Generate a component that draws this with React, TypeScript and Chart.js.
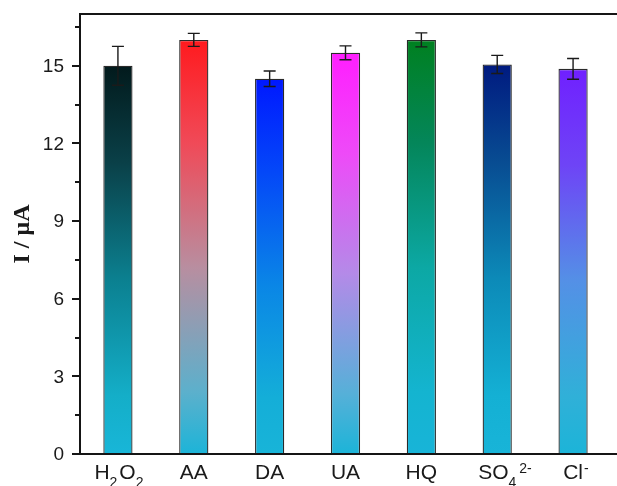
import React, { useEffect, useRef } from "react";
import { Chart, registerables } from "chart.js";

Chart.register(...registerables);

// ---- data ----
const categories = ["H_2O_2", "AA", "DA", "UA", "HQ", "SO_4^{2-}", "Cl^-"];
const currents = [15.0, 16.0, 14.5, 15.5, 16.0, 15.05, 14.88];
const errors = [0.75, 0.25, 0.3, 0.27, 0.27, 0.35, 0.4];
const yMajorTicks = [0, 3, 6, 9, 12, 15];
const yMinorTicks = [1.5, 4.5, 7.5, 10.5, 13.5, 16.5];
const yMax = 17;
const yTitle = "I / μA";

// ---- styles ----
const gradientStops = [0, 0.25, 0.55, 0.85, 1];
const barGradients = [
  ["#021a1c", "#0a4048", "#0b8090", "#14aec8", "#18b6d8"],
  ["#ff1a1e", "#f04a58", "#b88ea0", "#5cb0cc", "#1cb4d8"],
  ["#0018ff", "#0448f8", "#0a86e6", "#14aed8", "#18b4d8"],
  ["#ff1eff", "#ee4af8", "#b48ae8", "#56b0d8", "#1cb4d8"],
  ["#008020", "#04865a", "#0ca8a4", "#14b4d0", "#18b4d8"],
  ["#001a80", "#084c92", "#0c8ab8", "#14b0d4", "#18b4d8"],
  ["#7020ff", "#6e44f6", "#5490e6", "#30b0d8", "#1cb4d8"],
];
const axisColor = "#151515";
const textColor = "#1a1a1a";
const sansFont = 'Arial, "Liberation Sans", sans-serif';
const serifFont = '"Liberation Serif", "Times New Roman", serif';

type Seg = { t: string; k: "n" | "sub" | "sup" };

function parseLabel(s: string): Seg[] {
  const segs: Seg[] = [];
  let i = 0;
  let buf = "";
  while (i < s.length) {
    const c = s[i];
    if (c === "_" || c === "^") {
      if (buf) {
        segs.push({ t: buf, k: "n" });
        buf = "";
      }
      let txt: string;
      if (s[i + 1] === "{") {
        const j = s.indexOf("}", i + 2);
        txt = s.slice(i + 2, j);
        i = j + 1;
      } else {
        txt = s[i + 1];
        i += 2;
      }
      segs.push({ t: txt, k: c === "_" ? "sub" : "sup" });
    } else {
      buf += c;
      i++;
    }
  }
  if (buf) segs.push({ t: buf, k: "n" });
  return segs;
}

const axisPlugin = {
  id: "originAxes",
  afterDatasetsDraw(chart: any) {
    const ctx = chart.ctx;
    const y = chart.scales.y;
    const meta = chart.getDatasetMeta(0);
    ctx.save();
    ctx.strokeStyle = "#1a1a1a";
    ctx.lineWidth = 1.4;
    meta.data.forEach((bar: any, i: number) => {
      const x = bar.x;
      const yHi = y.getPixelForValue(currents[i] + errors[i]);
      const yLo = y.getPixelForValue(currents[i] - errors[i]);
      ctx.beginPath();
      ctx.moveTo(x, yHi);
      ctx.lineTo(x, yLo);
      ctx.moveTo(x - 6, yHi);
      ctx.lineTo(x + 6, yHi);
      ctx.moveTo(x - 6, yLo);
      ctx.lineTo(x + 6, yLo);
      ctx.stroke();
    });
    ctx.restore();
  },
  afterDraw(chart: any) {
    const ctx = chart.ctx;
    const area = chart.chartArea;
    const y = chart.scales.y;
    const x = chart.scales.x;
    const W = chart.width;
    ctx.save();
    ctx.strokeStyle = axisColor;
    ctx.lineWidth = 2;
    // frame lines
    ctx.beginPath();
    ctx.moveTo(area.left, area.top - 1);
    ctx.lineTo(area.left, area.bottom + 1);
    ctx.moveTo(area.left - 1, area.top);
    ctx.lineTo(W, area.top);
    ctx.moveTo(area.left - 1, area.bottom);
    ctx.lineTo(W, area.bottom);
    ctx.stroke();
    // ticks
    ctx.beginPath();
    yMajorTicks.forEach((v) => {
      const py = Math.round(y.getPixelForValue(v));
      ctx.moveTo(area.left - 8, py);
      ctx.lineTo(area.left, py);
    });
    yMinorTicks.forEach((v) => {
      const py = Math.round(y.getPixelForValue(v));
      ctx.moveTo(area.left - 5, py);
      ctx.lineTo(area.left, py);
    });
    ctx.stroke();
    // y tick labels
    ctx.fillStyle = textColor;
    ctx.font = `19px ${sansFont}`;
    ctx.textAlign = "right";
    ctx.textBaseline = "middle";
    yMajorTicks.forEach((v) => {
      ctx.fillText(String(v), area.left - 16, y.getPixelForValue(v) + 1);
    });
    // y title
    ctx.save();
    ctx.translate(23, (area.top + area.bottom) / 2);
    ctx.rotate(-Math.PI / 2);
    ctx.font = `bold 24px ${serifFont}`;
    ctx.textAlign = "center";
    ctx.textBaseline = "middle";
    ctx.fillText(yTitle, 0, 0);
    ctx.restore();
    // x labels
    const baseFont = `21px ${sansFont}`;
    const scriptFont = `14px ${sansFont}`;
    ctx.textAlign = "left";
    ctx.textBaseline = "alphabetic";
    const baseline = area.bottom + 25;
    categories.forEach((lab, i) => {
      const segs = parseLabel(lab);
      const widths = segs.map((s) => {
        ctx.font = s.k === "n" ? baseFont : scriptFont;
        return ctx.measureText(s.t).width;
      });
      let total = 0;
      segs.forEach((s, k) => {
        if (s.k !== "sup") total += widths[k];
      });
      let cx = x.getPixelForValue(i) - total / 2;
      segs.forEach((s, k) => {
        if (s.k === "n") {
          ctx.font = baseFont;
          ctx.fillText(s.t, cx, baseline);
          cx += widths[k];
        } else if (s.k === "sub") {
          ctx.font = scriptFont;
          ctx.fillText(s.t, cx, baseline + 8);
          cx += widths[k] + 2;
        } else {
          ctx.font = scriptFont;
          ctx.fillText(s.t, cx + 1, baseline - 6);
          cx += widths[k] + 1;
        }
      });
    });
    ctx.restore();
  },
};

export default function App() {
  const ref = useRef<HTMLCanvasElement>(null);
  useEffect(() => {
    document.body.style.margin = "0";
    const canvas = ref.current!;
    const chart = new Chart(canvas, {
      type: "bar",
      data: {
        labels: categories,
        datasets: [
          {
            data: currents,
            backgroundColor: (c: any) => {
              const i = c.dataIndex;
              const stops = barGradients[i] || barGradients[0];
              const ch = c.chart;
              if (!ch.chartArea || !ch.scales.y) return stops[0];
              const yTop = ch.scales.y.getPixelForValue(currents[i]);
              const yBase = ch.scales.y.getPixelForValue(0);
              const g = ch.ctx.createLinearGradient(0, yTop, 0, yBase);
              gradientStops.forEach((p, k) => g.addColorStop(p, stops[k]));
              return g;
            },
            borderColor: "#2a2a2a",
            borderWidth: 1.3,
            borderSkipped: "start",
            categoryPercentage: 0.385,
            barPercentage: 1,
          } as any,
        ],
      },
      options: {
        responsive: false,
        animation: false,
        events: [],
        layout: { padding: { top: 14, right: 6, left: 0, bottom: 0 } },
        plugins: { legend: { display: false }, tooltip: { enabled: false } },
        scales: {
          x: {
            type: "category",
            offset: true,
            grid: { display: false },
            border: { display: false },
            ticks: { display: false },
            afterFit: (s: any) => {
              s.height = 32;
            },
          },
          y: {
            min: 0,
            max: yMax,
            grid: { display: false },
            border: { display: false },
            ticks: { display: false },
            afterFit: (s: any) => {
              s.width = 80;
            },
          },
        },
      } as any,
      plugins: [axisPlugin],
    });
    return () => chart.destroy();
  }, []);
  return (
    <canvas
      ref={ref}
      width={617}
      height={486}
      style={{ display: "block", width: 617, height: 486 }}
    />
  );
}
